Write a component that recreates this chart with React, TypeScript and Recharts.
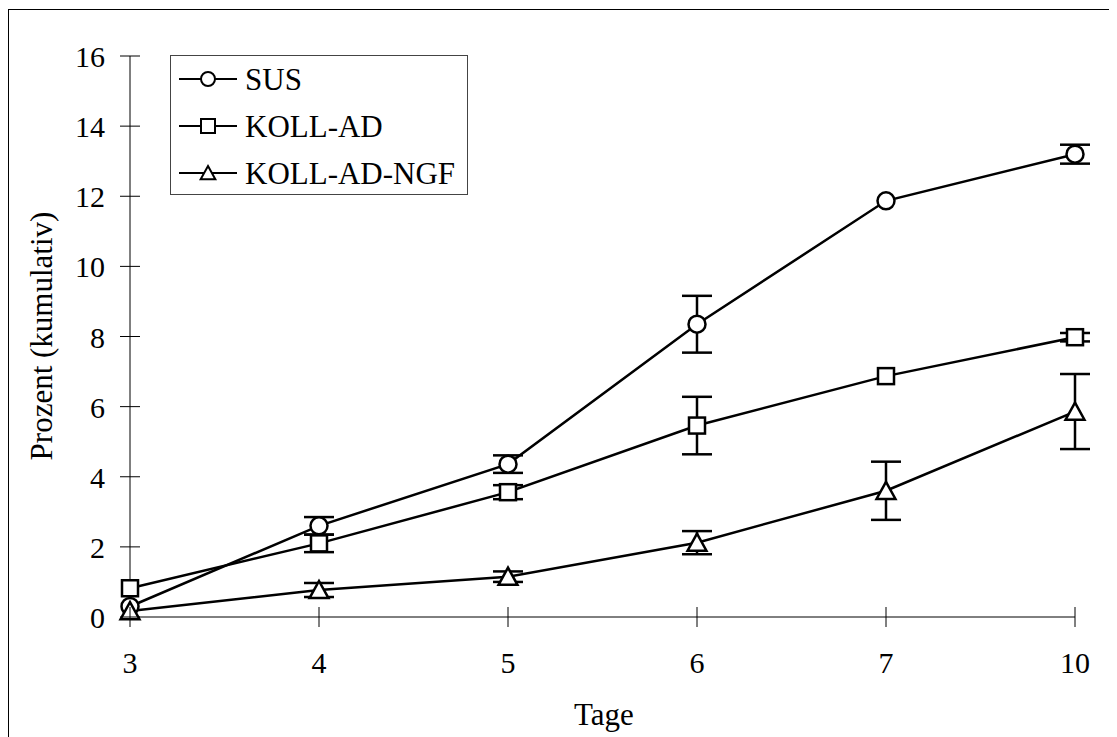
import { LineChart, Line, XAxis, YAxis, ErrorBar, Legend, Label } from 'recharts';

const days = ['3', '4', '5', '6', '7', '10'];
const yTicks = [0, 2, 4, 6, 8, 10, 12, 14, 16];
const seriesNames = ['SUS', 'KOLL-AD', 'KOLL-AD-NGF'];

const sus = [0.3, 2.6, 4.36, 8.35, 11.87, 13.2];
const susErr = [null, 0.25, 0.25, 0.81, null, 0.27];
const kollAd = [0.82, 2.1, 3.56, 5.46, 6.87, 7.98];
const kollAdErr = [null, 0.25, 0.2, 0.82, null, 0.12];
const kollAdNgf = [0.17, 0.77, 1.15, 2.12, 3.6, 5.86];
const kollAdNgfErr = [null, 0.2, 0.15, 0.33, 0.83, 1.07];

const data = days.map((d, i) => ({
  day: d,
  sus: sus[i],
  susErr: susErr[i],
  kollAd: kollAd[i],
  kollAdErr: kollAdErr[i],
  kollAdNgf: kollAdNgf[i],
  kollAdNgfErr: kollAdNgfErr[i],
}));

const FONT = '"Liberation Serif", "Times New Roman", serif';
const INK = '#000';

function CircleMark({ cx, cy, r = 8.5, sw = 2.5 }: any) {
  if (cx == null || cy == null) return null;
  return <circle cx={cx} cy={cy} r={r} fill="#fff" stroke={INK} strokeWidth={sw} />;
}

function SquareMark({ cx, cy, s = 8, sw = 2.5 }: any) {
  if (cx == null || cy == null) return null;
  return (
    <rect x={cx - s} y={cy - s} width={s * 2} height={s * 2} fill="#fff" stroke={INK} strokeWidth={sw} />
  );
}

function TriangleMark({ cx, cy, s = 9, sw = 2.5 }: any) {
  if (cx == null || cy == null) return null;
  const pts = `${cx},${cy - s} ${cx + s * 1.05},${cy + s * 0.9} ${cx - s * 1.05},${cy + s * 0.9}`;
  return <polygon points={pts} fill="#fff" stroke={INK} strokeWidth={sw} strokeLinejoin="miter" />;
}

const XTick = ({ x, y, payload }: any) => (
  <g>
    <line x1={x} x2={x} y1={y - 10} y2={y + 10} stroke={INK} strokeWidth={1} />
    <text x={x} y={y + 56} textAnchor="middle" fontFamily={FONT} fontSize={30} fill={INK}>
      {payload.value}
    </text>
  </g>
);

const YTick = ({ x, y, payload }: any) => (
  <g>
    <line x1={x - 10} x2={x + 10} y1={y} y2={y} stroke={INK} strokeWidth={1} />
    <text x={x - 25} y={y + 11} textAnchor="end" fontFamily={FONT} fontSize={30} fill={INK}>
      {payload.value}
    </text>
  </g>
);

const marks = [CircleMark, SquareMark, TriangleMark];

// drawn by hand so the order and markers follow the series, not the legend's sorting
function LegendBox() {
  return (
    <svg width={298} height={140} style={{ display: 'block' }}>
      <rect x={0.5} y={0.5} width={297} height={139} fill="#fff" stroke="#444" strokeWidth={1} />
      {seriesNames.map((name, i) => {
        const cy = 24 + i * 47;
        const Mark = marks[i];
        return (
          <g key={name}>
            <line x1={9} x2={67} y1={cy} y2={cy} stroke={INK} strokeWidth={2} />
            <Mark cx={38} cy={cy} r={7} s={7} sw={2} />
            <text x={75} y={cy + 11} fontFamily={FONT} fontSize={31} fill={INK}>
              {name}
            </text>
          </g>
        );
      })}
    </svg>
  );
}

export default function App() {
  return (
    <div style={{ position: 'relative', width: 1109, height: 729, overflow: 'hidden', background: '#fff' }}>
      <div
        style={{
          position: 'absolute',
          left: 0,
          top: 1,
          width: 1200,
          height: 800,
          border: '1px solid #000',
          pointerEvents: 'none',
        }}
      />
      <LineChart width={1109} height={729} data={data} margin={{ top: 48, right: 42, bottom: 40, left: 42 }}>
        <XAxis
          dataKey="day"
          type="category"
          height={80}
          padding={{ left: 0, right: 0 }}
          axisLine={{ stroke: INK, strokeWidth: 1 }}
          tickLine={false}
          tickSize={0}
          tickMargin={0}
          tick={<XTick />}
          interval={0}
        >
          <Label
            content={() => (
              <text x={596} y={717} textAnchor="middle" fontFamily={FONT} fontSize={31} fill={INK}>
                Tage
              </text>
            )}
          />
        </XAxis>
        <YAxis
          width={80}
          domain={[0, 16]}
          ticks={yTicks}
          interval={0}
          axisLine={{ stroke: INK, strokeWidth: 1 }}
          tickLine={false}
          tickSize={0}
          tickMargin={0}
          tick={<YTick />}
        >
          <Label
            content={() => (
              <text
                x={44}
                y={328}
                transform="rotate(-90 44 328)"
                textAnchor="middle"
                fontFamily={FONT}
                fontSize={31}
                fill={INK}
              >
                Prozent (kumulativ)
              </text>
            )}
          />
        </YAxis>
        <Legend
          layout="horizontal"
          verticalAlign="middle"
          align="center"
          content={<LegendBox />}
          wrapperStyle={{ position: 'absolute', left: 162, top: 47, width: 298, height: 140 }}
        />
        <Line
          name="SUS"
          dataKey="sus"
          stroke={INK}
          strokeWidth={2.5}
          isAnimationActive={false}
          dot={(p: any) => <CircleMark key={`s${p.index}`} cx={p.cx} cy={p.cy} />}
          activeDot={false}
        >
          <ErrorBar dataKey="susErr" width={15} strokeWidth={2.5} stroke={INK} direction="y" />
        </Line>
        <Line
          name="KOLL-AD"
          dataKey="kollAd"
          stroke={INK}
          strokeWidth={2.5}
          isAnimationActive={false}
          dot={(p: any) => <SquareMark key={`k${p.index}`} cx={p.cx} cy={p.cy} />}
          activeDot={false}
        >
          <ErrorBar dataKey="kollAdErr" width={15} strokeWidth={2.5} stroke={INK} direction="y" />
        </Line>
        <Line
          name="KOLL-AD-NGF"
          dataKey="kollAdNgf"
          stroke={INK}
          strokeWidth={2.5}
          isAnimationActive={false}
          dot={(p: any) => <TriangleMark key={`n${p.index}`} cx={p.cx} cy={p.cy} />}
          activeDot={false}
        >
          <ErrorBar dataKey="kollAdNgfErr" width={15} strokeWidth={2.5} stroke={INK} direction="y" />
        </Line>
      </LineChart>
    </div>
  );
}
